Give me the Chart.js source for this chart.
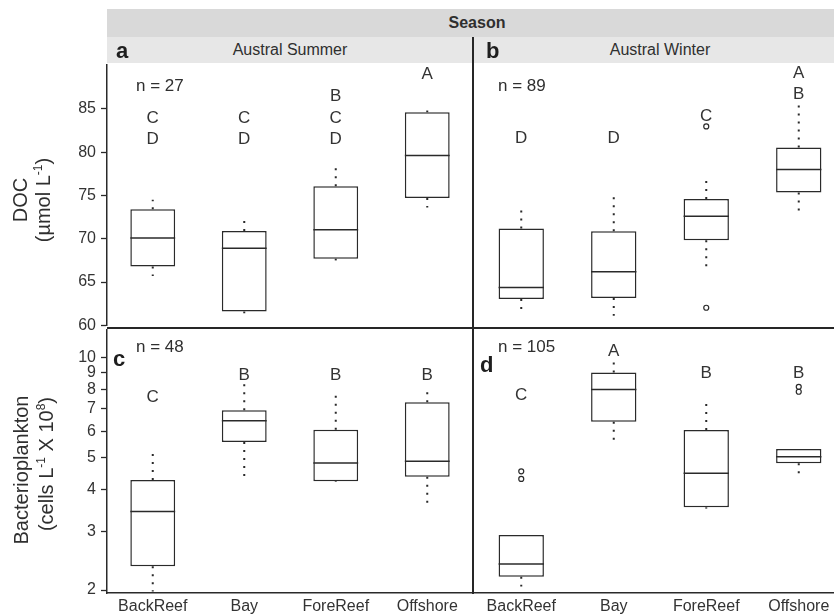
<!DOCTYPE html>
<html>
<head>
<meta charset="utf-8">
<title>DOC and bacterioplankton by reef zone and season</title>
<script src="https://cdn.jsdelivr.net/npm/chart.js@4.4.1/dist/chart.umd.min.js"></script>
<style>
  html, body { margin: 0; padding: 0; background: #fff; }
  body { position: relative; width: 834px; height: 614px; overflow: hidden;
         font-family: "Liberation Sans", Arial, sans-serif; color: #2f2f2f; }
  canvas { position: absolute; }
  .strip { position: absolute; display: flex; align-items: center; justify-content: center; font-size: 16px; }
  .rule { position: absolute; background: #262626; }
  .tag { position: absolute; font-size: 22px; font-weight: bold; line-height: 1; color: #1e1e1e; }
  .nlab { position: absolute; font-size: 17px; line-height: 1; }
  .ytitle { position: absolute; font-size: 20px; white-space: nowrap; line-height: 1;
            transform: translate(-50%, -50%) rotate(-90deg); }
  .ytitle sup { font-size: 12px; vertical-align: 0; position: relative; top: -8px; }
</style>
</head>
<body>
<!-- facet strips -->
<div class="strip" style="left:107px;top:9px;width:740px;height:28px;background:#d9d9d9;font-weight:bold;">Season</div>
<div class="strip" style="left:107px;top:37px;width:740px;height:26px;background:#e7e7e7;"></div>
<div class="strip" style="left:107px;top:37px;width:366px;height:26px;">Austral Summer</div>
<div class="strip" style="left:475px;top:37px;width:370px;height:26px;">Austral Winter</div>

<canvas id="pa" width="480" height="290" style="left:0;top:50px"></canvas>
<canvas id="pb" width="390" height="290" style="left:470px;top:50px"></canvas>
<canvas id="pc" width="480" height="299" style="left:0;top:315px"></canvas>
<canvas id="pd" width="390" height="299" style="left:470px;top:315px"></canvas>

<!-- panel dividers -->
<div class="rule" style="left:472px;top:37px;width:2px;height:557px;"></div>
<div class="rule" style="left:107px;top:327px;width:740px;height:2px;"></div>

<!-- panel tags and sample sizes -->
<div class="tag" style="left:116px;top:40px;">a</div>
<div class="tag" style="left:486px;top:40px;">b</div>
<div class="tag" style="left:113px;top:348px;">c</div>
<div class="tag" style="left:480px;top:354px;">d</div>
<div class="nlab" style="left:136px;top:77px;">n = 27</div>
<div class="nlab" style="left:498px;top:77px;">n = 89</div>
<div class="nlab" style="left:136px;top:338px;">n = 48</div>
<div class="nlab" style="left:498px;top:338px;">n = 105</div>

<!-- y axis titles -->
<div class="ytitle" style="left:20px;top:200px;">DOC</div>
<div class="ytitle" style="left:43px;top:200px;">(µmol L<sup>-1</sup>)</div>
<div class="ytitle" style="left:21px;top:470px;">Bacterioplankton</div>
<div class="ytitle" style="left:46px;top:464px;">(cells L<sup>-1</sup> X 10<sup>8</sup>)</div>

<script>
Chart.defaults.font.family = '"Liberation Sans", Arial, sans-serif';
Chart.defaults.color = '#333';
const ink = '#2a2a2a';

const sites = ['BackReef', 'Bay', 'ForeReef', 'Offshore'];
const docTicks = [60, 65, 70, 75, 80, 85];
const bactTicks = [2, 3, 4, 5, 6, 7, 8, 9, 10];

// DOC (µmol L-1), austral summer
const docSumLow    = [65.7, 61.4, 67.5, 73.6];
const docSumQ1     = [66.8, 61.6, 67.7, 74.7];
const docSumMedian = [70.1, 68.9, 71.05, 79.6];
const docSumQ3     = [73.4, 70.9, 76.05, 84.6];
const docSumHigh   = [74.5, 72.1, 78.3, 84.8];
const docSumOut    = [[], [], [], []];
const docSumGroups = ['CD', 'CD', 'BCD', 'A'];

// DOC (µmol L-1), austral winter
const docWinLow    = [62.1, 61.4, 66.85, 73.2];
const docWinQ1     = [63.3, 63.4, 69.97, 75.4];
const docWinMedian = [64.6, 66.4, 72.7, 78.0];
const docWinQ3     = [71.3, 71.0, 74.66, 80.5];
const docWinHigh   = [73.5, 75.1, 76.8, 85.5];
const docWinOut    = [[], [], [62.3, 82.9], []];
const docWinGroups = ['D', 'D', 'C', 'AB'];

// Bacterioplankton (cells L-1 x 10^8), austral summer
const bacSumLow    = [1.98, 4.34, 4.22, 3.65];
const bacSumQ1     = [2.36, 5.56, 4.24, 4.38];
const bacSumMedian = [3.44, 6.44, 4.81, 4.87];
const bacSumQ3     = [4.28, 6.93, 6.06, 7.33];
const bacSumHigh   = [5.14, 8.38, 7.76, 7.88];
const bacSumOut    = [[], [], [], []];
const bacSumGroups = ['C', 'B', 'B', 'B'];

// Bacterioplankton (cells L-1 x 10^8), austral winter
const bacWinLow    = [2.05, 5.55, 3.5, 4.44];
const bacWinQ1     = [2.19, 6.36, 3.53, 4.78];
const bacWinMedian = [2.39, 7.93, 4.46, 5.0];
const bacWinQ3     = [2.92, 8.91, 6.01, 5.27];
const bacWinHigh   = [2.92, 9.62, 7.30, 5.27];
const bacWinOut    = [[4.29, 4.52], [], [], [7.81, 8.08]];
const bacWinGroups = ['C', 'A', 'B', 'B'];

// medians, dotted whiskers, outlier circles and significance letters
function boxDecor(s, opt) {
  return {
    id: 'boxDecor',
    afterDatasetsDraw(chart) {
      const ctx = chart.ctx, y = chart.scales.y, top = chart.chartArea.top;
      const bars = chart.getDatasetMeta(0).data;
      ctx.save();
      ctx.strokeStyle = ink;
      bars.forEach((bar, i) => {
        const cx = bar.x, half = bar.width / 2;
        ctx.setLineDash([]);
        ctx.lineWidth = 1.5;
        const ym = y.getPixelForValue(s.median[i]);
        ctx.beginPath(); ctx.moveTo(cx - half, ym); ctx.lineTo(cx + half, ym); ctx.stroke();

        ctx.setLineDash([2, 6]);
        ctx.lineWidth = 2;
        [[s.q3[i], s.high[i]], [s.q1[i], s.low[i]]].forEach(([from, to]) => {
          if (Math.abs(from - to) < 1e-9) return;
          ctx.beginPath();
          ctx.moveTo(cx, y.getPixelForValue(from));
          ctx.lineTo(cx, y.getPixelForValue(to));
          ctx.stroke();
        });

        ctx.setLineDash([]);
        ctx.lineWidth = 1.2;
        s.out[i].forEach(v => {
          ctx.beginPath();
          ctx.arc(cx, y.getPixelForValue(v), 2.5, 0, Math.PI * 2);
          ctx.stroke();
        });

        ctx.fillStyle = '#333';
        ctx.font = '17px "Liberation Sans", Arial, sans-serif';
        ctx.textAlign = 'center';
        ctx.textBaseline = 'middle';
        for (const ch of s.groups[i]) {
          const row = ch.charCodeAt(0) - 65;
          ctx.fillText(ch, cx, top + opt.letterTop + row * opt.letterStep);
        }
      });
      ctx.restore();
    }
  };
}

function yScale(opt) {
  const common = {
    display: opt.showY,
    bounds: 'data',
    afterFit: sc => { if (opt.showY) sc.width = 107; },
    grid: { drawOnChartArea: false, tickLength: 6, tickColor: ink, tickWidth: 1.3 },
    border: { color: ink, width: 1.5 },
    ticks: { font: { size: 16 }, color: '#333', padding: 5, callback: v => String(v) }
  };
  if (opt.log) {
    return Object.assign(common, {
      type: 'logarithmic', min: 1.96, max: 12.1,
      afterBuildTicks: sc => { sc.ticks = bactTicks.map(v => ({ value: v })); }
    });
  }
  return Object.assign(common, {
    type: 'linear', min: 60, max: 90.1,
    afterBuildTicks: sc => { sc.ticks = docTicks.map(v => ({ value: v })); }
  });
}

function boxPanel(id, s, opt) {
  return new Chart(document.getElementById(id), {
    type: 'bar',
    data: {
      labels: sites,
      datasets: [{
        data: s.q1.map((v, i) => [v, s.q3[i]]),
        backgroundColor: '#fff',
        borderColor: ink,
        borderWidth: 1.5,
        borderSkipped: false,
        barPercentage: 0.49,
        categoryPercentage: 1
      }]
    },
    options: {
      responsive: false,
      animation: false,
      devicePixelRatio: 1,
      events: [],
      layout: { padding: opt.padding },
      plugins: { legend: { display: false }, tooltip: { enabled: false } },
      scales: {
        x: {
          type: 'category',
          display: opt.showX,
          offset: true,
          afterFit: sc => { if (opt.showX) sc.height = 21; },
          grid: { display: false, drawTicks: false },
          border: { display: true, color: ink, width: 1.5 },
          ticks: { font: { size: 16 }, color: '#333', padding: 4, maxRotation: 0, autoSkip: false }
        },
        y: yScale(opt)
      }
    },
    plugins: [boxDecor(s, opt)]
  });
}

boxPanel('pa',
  { low: docSumLow, q1: docSumQ1, median: docSumMedian, q3: docSumQ3, high: docSumHigh, out: docSumOut, groups: docSumGroups },
  { showY: true, showX: false, log: false, padding: { left: 0, right: 7, top: 13, bottom: 12 }, letterTop: 10, letterStep: 21.7 });

boxPanel('pb',
  { low: docWinLow, q1: docWinQ1, median: docWinMedian, q3: docWinQ3, high: docWinHigh, out: docWinOut, groups: docWinGroups },
  { showY: false, showX: false, log: false, padding: { left: 5, right: 15, top: 13, bottom: 12 }, letterTop: 10, letterStep: 21.7 });

boxPanel('pc',
  { low: bacSumLow, q1: bacSumQ1, median: bacSumMedian, q3: bacSumQ3, high: bacSumHigh, out: bacSumOut, groups: bacSumGroups },
  { showY: true, showX: true, log: true, padding: { left: 0, right: 7, top: 13, bottom: 0 }, letterTop: 23.5, letterStep: 22 });

boxPanel('pd',
  { low: bacWinLow, q1: bacWinQ1, median: bacWinMedian, q3: bacWinQ3, high: bacWinHigh, out: bacWinOut, groups: bacWinGroups },
  { showY: false, showX: true, log: true, padding: { left: 5, right: 15, top: 13, bottom: 0 }, letterTop: 23.5, letterStep: 22 });
</script>
</body>
</html>
